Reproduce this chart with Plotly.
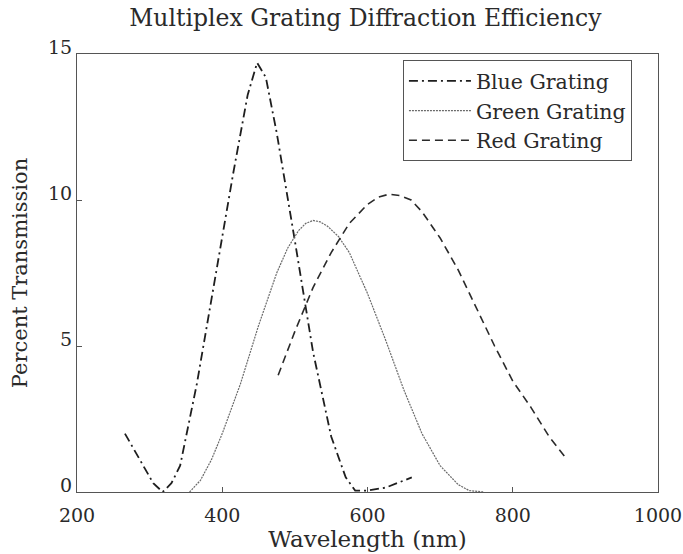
import plotly.graph_objects as go

# Measured transmission of the three multiplexed gratings (wavelength in nm, percent)
blue_wl = [266, 287, 305, 318, 330, 342, 365, 390, 415, 435, 448, 460, 475, 500, 525, 550, 570, 583, 600, 625, 645, 661]
blue_pct = [2.0, 1.1, 0.3, 0.0, 0.3, 0.9, 3.7, 7.3, 10.9, 13.6, 14.7, 14.2, 12.3, 8.6, 4.8, 1.9, 0.5, 0.05, 0.05, 0.15, 0.35, 0.5]

green_wl = [355, 370, 385, 400, 425, 450, 475, 490, 505, 515, 525, 535, 545, 560, 575, 600, 625, 650, 675, 700, 725, 740, 760]
green_pct = [0.0, 0.4, 1.1, 2.0, 3.7, 5.7, 7.5, 8.35, 8.95, 9.2, 9.3, 9.25, 9.1, 8.75, 8.2, 6.8, 5.2, 3.5, 2.0, 0.9, 0.25, 0.05, 0.0]

red_wl = [477, 500, 525, 550, 575, 600, 615, 630, 645, 660, 675, 700, 725, 750, 775, 800, 825, 850, 872]
red_pct = [4.0, 5.5, 7.0, 8.2, 9.2, 9.85, 10.1, 10.2, 10.15, 10.0, 9.6, 8.7, 7.6, 6.3, 5.0, 3.8, 2.9, 1.9, 1.2]

x_ticks = [200, 400, 600, 800, 1000]
y_ticks = [0, 5, 10, 15]

FONT = "DejaVu Serif"
INK = "#2a2a2a"

fig = go.Figure()
fig.add_trace(go.Scatter(x=blue_wl, y=blue_pct, mode="lines", name="Blue Grating",
                         line=dict(color="#1e1e1e", width=1.8, dash="9px,4px,2px,4px")))
fig.add_trace(go.Scatter(x=green_wl, y=green_pct, mode="lines", name="Green Grating",
                         line=dict(color="#6a6a6a", width=1.2, dash="2px,1px")))
fig.add_trace(go.Scatter(x=red_wl, y=red_pct, mode="lines", name="Red Grating",
                         line=dict(color="#2a2a2a", width=1.6, dash="8px,5px")))

axis_common = dict(showline=True, linecolor="#555555", linewidth=1, mirror=True,
                   ticks="inside", ticklen=5, tickcolor="#555555",
                   showgrid=False, zeroline=False, automargin=False,
                   tickfont=dict(family=FONT, size=19, color=INK))

fig.update_layout(
    width=683, height=554,
    margin=dict(l=77, r=25, t=54, b=62),
    paper_bgcolor="white", plot_bgcolor="white",
    title=dict(text="Multiplex Grating Diffraction Efficiency", x=0.535, xanchor="center",
               y=0.968, yanchor="middle",
               font=dict(family=FONT, size=23.5, color=INK)),
    xaxis=dict(axis_common, range=[200, 1000], tickvals=x_ticks, ticklabelstandoff=6,
               title=dict(text="Wavelength (nm)", standoff=3,
                          font=dict(family=FONT, size=23, color=INK))),
    yaxis=dict(axis_common, range=[0, 15], tickvals=y_ticks, ticklabelshift=-7,
               title=dict(text="Percent Transmission", standoff=14,
                          font=dict(family=FONT, size=21, color=INK))),
    legend=dict(x=0.561, y=0.986, xanchor="left", yanchor="top",
                bordercolor="#555555", borderwidth=1, bgcolor="white",
                font=dict(family=FONT, size=20.5, color=INK),
                itemwidth=62, tracegroupgap=0),
    showlegend=True,
)

fig.write_html("out.html")
